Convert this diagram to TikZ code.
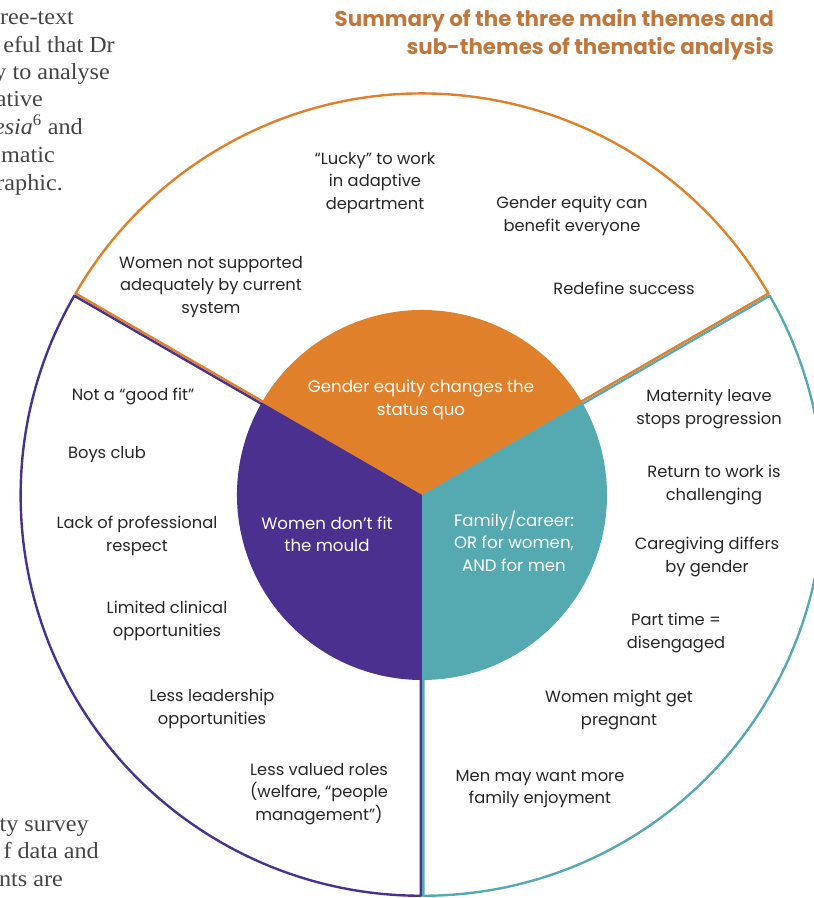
\documentclass[tikz,border=0pt]{standalone}
\usepackage{fontspec}
\setmainfont{Poppins}
\newfontfamily\pageserif[FakeStretch=1.05]{Liberation Serif}
\usepackage{xcolor}
\definecolor{themeorange}{HTML}{E0802B}
\definecolor{themepurple}{HTML}{4A318F}
\definecolor{themeteal}{HTML}{54AAB0}
\definecolor{titlebrown}{HTML}{C0773D}
\definecolor{pagegrey}{HTML}{444444}
\definecolor{subgrey}{HTML}{262626}

\tikzset{
  subtheme/.style={align=center,inner sep=0pt,text=subgrey,font=\fontsize{16.3}{22.5}\selectfont},
  maintheme/.style={align=center,inner sep=0pt,text=white,font=\fontsize{16.6}{22.5}\selectfont},
  pageline/.style={anchor=base east,inner sep=0pt,text=pagegrey,font=\pageserif\fontsize{23}{28}\selectfont},
  ring/.style={line width=2.4,line join=round},
}

\begin{document}
\begin{tikzpicture}[x=1pt,y=1pt]
\useasboundingbox (0,0) rectangle (814,898);
\clip (0,0) rectangle (814,898);

% cropped text of the page
\node[pageline] (p1) at (74,873) {ree-text};
\node[pageline] (p2) at (115,845) {eful that Dr};
\node[pageline] (p3) at (110,818) {y to analyse};
\node[pageline] (p4) at (43,791) {ative};
\node[pageline] (p5) at (83,763) {\textit{esia}\textsuperscript{6} and};
\node[pageline] (p6) at (55,735) {matic};
\node[pageline] (p7) at (63,707) {raphic.};
\node[pageline] (p8) at (89,66) {ty survey};
\node[pageline] (p9) at (99,39) {f data and};
\node[pageline] (p10) at (63,11) {nts are};

\node[anchor=north east,align=right,inner sep=0pt,text=titlebrown,
      font=\bfseries\fontsize{21.4}{28}\selectfont] (title) at (774,889)
      {Summary of the three main themes and\\sub-themes of thematic analysis};

% outer ring
\begin{scope}[shift={(90:1.5)}]
  \draw[themeorange,ring] (422,403) -- ++(30:400) arc[start angle=30,end angle=150,radius=400] -- cycle;
\end{scope}
\begin{scope}[shift={(210:1.5)}]
  \draw[themepurple,ring] (422,403) -- ++(150:400) arc[start angle=150,end angle=270,radius=400] -- cycle;
\end{scope}
\begin{scope}[shift={(330:1.5)}]
  \draw[themeteal,ring] (422,403) -- ++(270:400) arc[start angle=270,end angle=390,radius=400] -- cycle;
\end{scope}

% inner pie
\fill[themeorange] (422,403) -- ++(30:185) arc[start angle=30,end angle=150,radius=185] -- cycle;
\fill[themepurple] (422,403) -- ++(150:185) arc[start angle=150,end angle=270,radius=185] -- cycle;
\fill[themeteal] (422,403) -- ++(270:185) arc[start angle=270,end angle=390,radius=185] -- cycle;

\node[maintheme] (statusquo) at (421,498) {Gender equity changes the\\status quo};
\node[maintheme] (mould) at (327,364) {Women don’t fit\\the mould};
\node[maintheme] (familycareer) at (514,357) {Family/career:\\OR for women,\\AND for men};

% sub-themes
\node[subtheme] (lucky) at (375,715) {“Lucky” to work\\in adaptive\\department};
\node[subtheme] (benefit) at (572,682) {Gender equity can\\benefit everyone};
\node[subtheme] (success) at (624,610) {Redefine success};
\node[subtheme] (notsupported) at (211,611) {Women not supported\\adequately by current\\system};

\node[subtheme] (goodfit) at (133,502) {Not a “good fit”};
\node[subtheme] (boysclub) at (107,443) {Boys club};
\node[subtheme] (respect) at (137,362) {Lack of professional\\respect};
\node[subtheme] (clinical) at (167,277) {Limited clinical\\opportunities};
\node[subtheme] (leadership) at (212,189) {Less leadership\\opportunities};
\node[subtheme] (valued) at (319,104) {Less valued roles\\(welfare, “people\\management”)};

\node[subtheme] (maternity) at (709,489) {Maternity leave\\stops progression};
\node[subtheme] (returnwork) at (714,413) {Return to work is\\challenging};
\node[subtheme] (caregiving) at (707,341) {Caregiving differs\\by gender};
\node[subtheme] (parttime) at (676,265) {Part time =\\disengaged};
\node[subtheme] (pregnant) at (619,188) {Women might get\\pregnant};
\node[subtheme] (enjoyment) at (540,109) {Men may want more\\family enjoyment};
\end{tikzpicture}
\end{document}
